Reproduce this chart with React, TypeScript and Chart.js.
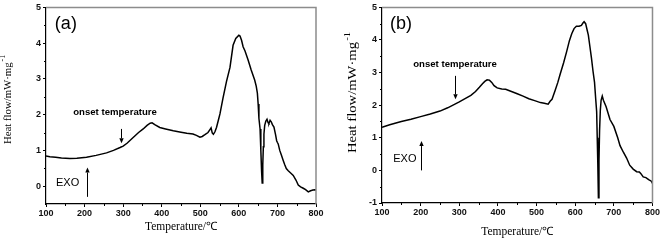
import React, { useEffect, useRef } from "react";
import { Chart, registerables } from "chart.js";

Chart.register(...registerables);

// ---------- data ----------
const tempA = [100, 110, 125, 140, 162, 180, 205, 230, 257, 275, 292, 300, 310, 326, 340, 352, 362, 370, 375, 382, 395, 410, 430, 450, 465, 481, 490, 499, 505, 512, 520, 525, 528, 531, 534, 538, 542, 547, 551, 559, 568, 577, 585, 592, 600, 603, 607, 611, 616, 624, 632, 641, 645, 648, 650, 652, 655, 657, 659, 660.5, 662, 663.5, 665, 667, 670, 673, 676, 678, 681, 684, 687, 691, 695, 698, 700, 702, 706, 710, 715, 719, 723, 728, 735, 741, 748, 754, 760, 767, 773, 780, 786, 792, 797, 800];
const heatA = [0.84, 0.82, 0.81, 0.79, 0.77, 0.78, 0.81, 0.86, 0.93, 1.0, 1.08, 1.12, 1.2, 1.36, 1.5, 1.6, 1.7, 1.76, 1.77, 1.72, 1.64, 1.6, 1.55, 1.51, 1.48, 1.46, 1.42, 1.37, 1.39, 1.44, 1.5, 1.58, 1.63, 1.49, 1.45, 1.52, 1.64, 1.85, 2.02, 2.47, 2.93, 3.32, 3.94, 4.13, 4.22, 4.2, 4.08, 3.9, 3.78, 3.53, 3.25, 2.97, 2.8, 2.6, 2.3, 1.9, 1.6, 1.0, 0.4, 0.09, 0.6, 1.1, 1.45, 1.7, 1.82, 1.87, 1.77, 1.75, 1.84, 1.8, 1.72, 1.65, 1.45, 1.27, 1.22, 1.18, 1.0, 0.88, 0.72, 0.6, 0.49, 0.43, 0.36, 0.3, 0.17, 0.03, -0.02, -0.06, -0.1, -0.16, -0.13, -0.11, -0.1, -0.11];

const tempB = [100, 120, 150, 175, 200, 225, 250, 270, 290, 300, 315, 330, 342, 352, 360, 366, 372, 378, 384, 390, 398, 410, 420, 435, 450, 465, 480, 495, 510, 520, 530, 535, 540, 548, 555, 561, 570, 578, 585, 591, 597, 603, 610, 616, 620, 623, 627, 631, 634, 638, 642, 646, 650, 653, 655.5, 657, 658.5, 660, 661.5, 663, 665, 667, 670, 673, 680, 690, 700, 710, 716, 725, 733, 741, 750, 759, 766, 770, 776, 783, 790, 797, 800];
const heatB = [1.32, 1.4, 1.5, 1.57, 1.65, 1.73, 1.82, 1.92, 2.04, 2.1, 2.2, 2.3, 2.42, 2.55, 2.66, 2.73, 2.78, 2.77, 2.7, 2.6, 2.53, 2.5, 2.49, 2.42, 2.35, 2.28, 2.2, 2.14, 2.08, 2.06, 2.03, 2.12, 2.18, 2.45, 2.7, 2.95, 3.3, 3.65, 3.98, 4.19, 4.35, 4.42, 4.42, 4.45, 4.52, 4.56, 4.5, 4.3, 4.15, 3.8, 3.45, 3.05, 2.7, 2.2, 1.8, 1.0, 0.2, -0.84, 0.3, 1.2, 1.85, 2.15, 2.28, 2.15, 1.95, 1.56, 1.35, 1.0, 0.76, 0.55, 0.38, 0.16, 0.04, -0.04, -0.05, -0.1, -0.2, -0.22, -0.28, -0.33, -0.4];

const xTicks = [100, 200, 300, 400, 500, 600, 700, 800];
const xMinor = [150, 250, 350, 450, 550, 650, 750];
const yTicksA = [0, 1, 2, 3, 4, 5];
const yMinorA = [0.5, 1.5, 2.5, 3.5, 4.5];
const yTicksB = [-1, 0, 1, 2, 3, 4, 5];
const yMinorB = [-0.5, 0.5, 1.5, 2.5, 3.5, 4.5];

const xTitle = "Temperature/\u2103";
const yTitleMain = "Heat flow/mW\u00B7mg";
const yTitleSup = "-1";
const onsetLabel = "onset temperature";
const exoLabel = "EXO";

type Panel = {
  label: string;
  temps: number[];
  heats: number[];
  yMin: number;
  yTicks: number[];
  yMinor: number[];
  canvasLeft: number;
  canvasWidth: number;
  axisWidth: number;
  padTop: number;
  padRight: number;
  xAxisHeight: number;
  xTitlePad: number;
  yTitle: { cx: number; yStart: number; length: number; size: number };
  ann: {
    tag: [number, number];
    onset: [number, number];
    downArrow: [number, number, number];
    exo: [number, number];
    upArrow: [number, number, number];
  };
};

const panels: Panel[] = [
  {
    label: "(a)",
    temps: tempA,
    heats: heatA,
    yMin: -0.5,
    yTicks: yTicksA,
    yMinor: yMinorA,
    canvasLeft: 0,
    canvasWidth: 330,
    axisWidth: 46,
    padTop: 5,
    padRight: 14,
    xAxisHeight: 36,
    xTitlePad: 6.4,
    yTitle: { cx: 8, yStart: 144, length: 89, size: 11 },
    ann: {
      tag: [123, 4.53],
      onset: [279, 2.07],
      downArrow: [294, 1.6, 1.2],
      exo: [126, 0.08],
      upArrow: [205, -0.3, 0.52],
    },
  },
  {
    label: "(b)",
    temps: tempB,
    heats: heatB,
    yMin: -1,
    yTicks: yTicksB,
    yMinor: yMinorB,
    canvasLeft: 330,
    canvasWidth: 331,
    axisWidth: 52,
    padTop: 5,
    padRight: 8,
    xAxisHeight: 37,
    xTitlePad: 1.2,
    yTitle: { cx: 23, yStart: 153, length: 121, size: 12 },
    ann: {
      tag: [121, 4.48],
      onset: [289, 3.25],
      downArrow: [289, 2.9, 2.18],
      exo: [129, 0.36],
      upArrow: [201, 0, 0.9],
    },
  },
];

const SANS = '"Liberation Sans", Arial, sans-serif';
const SERIF = '"Liberation Serif", "Times New Roman", serif';

function drawArrow(ctx: CanvasRenderingContext2D, x: number, y0: number, y1: number) {
  const dir = y1 > y0 ? 1 : -1;
  const head = 5;
  ctx.beginPath();
  ctx.moveTo(x, y0);
  ctx.lineTo(x, y1 - dir * head);
  ctx.lineWidth = 1;
  ctx.strokeStyle = "#000";
  ctx.stroke();
  ctx.beginPath();
  ctx.moveTo(x, y1);
  ctx.lineTo(x - 2.2, y1 - dir * head);
  ctx.lineTo(x + 2.2, y1 - dir * head);
  ctx.closePath();
  ctx.fillStyle = "#000";
  ctx.fill();
}

function makeDecor(p: Panel) {
  return {
    id: "decor",
    afterDraw(chart: any) {
      const { ctx, chartArea: ca } = chart;
      const xs = chart.scales.x;
      const ys = chart.scales.y;
      ctx.save();
      // frame top/right
      ctx.strokeStyle = "#8c8c8c";
      ctx.lineWidth = 1.5;
      ctx.beginPath();
      ctx.moveTo(ca.left, ca.top);
      ctx.lineTo(ca.right, ca.top);
      ctx.lineTo(ca.right, ca.bottom);
      ctx.stroke();
      // minor ticks
      ctx.strokeStyle = "#000";
      ctx.lineWidth = 1;
      ctx.beginPath();
      for (const v of xMinor) {
        const px = Math.round(xs.getPixelForValue(v)) + 0.5;
        ctx.moveTo(px, ca.bottom);
        ctx.lineTo(px, ca.bottom + 2);
      }
      for (const v of p.yMinor) {
        const py = Math.round(ys.getPixelForValue(v)) + 0.5;
        ctx.moveTo(ca.left, py);
        ctx.lineTo(ca.left - 2, py);
      }
      ctx.stroke();

      // y title (rotated)
      const t = p.yTitle;
      ctx.save();
      ctx.translate(t.cx, t.yStart);
      ctx.rotate(-Math.PI / 2);
      ctx.font = `${t.size}px ${SERIF}`;
      const w1 = ctx.measureText(yTitleMain).width;
      const supSize = t.size * 0.72;
      ctx.font = `${supSize}px ${SERIF}`;
      const w2 = ctx.measureText(yTitleSup).width;
      ctx.scale(t.length / (w1 + w2 + 1), 1);
      ctx.fillStyle = "#000";
      ctx.textBaseline = "middle";
      ctx.textAlign = "left";
      ctx.font = `${t.size}px ${SERIF}`;
      ctx.fillText(yTitleMain, 0, 0);
      ctx.font = `${supSize}px ${SERIF}`;
      ctx.fillText(yTitleSup, w1 + 1, -t.size * 0.45);
      ctx.restore();

      // annotations
      const a = p.ann;
      ctx.fillStyle = "#000";
      ctx.textBaseline = "middle";
      ctx.textAlign = "left";
      ctx.font = `18px ${SANS}`;
      ctx.fillText(p.label, xs.getPixelForValue(a.tag[0]), ys.getPixelForValue(a.tag[1]));
      ctx.font = `bold 9.6px ${SANS}`;
      ctx.textAlign = "center";
      ctx.fillText(onsetLabel, xs.getPixelForValue(a.onset[0]), ys.getPixelForValue(a.onset[1]));
      ctx.font = `11px ${SANS}`;
      ctx.textAlign = "left";
      ctx.fillText(exoLabel, xs.getPixelForValue(a.exo[0]), ys.getPixelForValue(a.exo[1]));
      const dx = Math.round(xs.getPixelForValue(a.downArrow[0])) + 0.5;
      drawArrow(ctx, dx, ys.getPixelForValue(a.downArrow[1]), ys.getPixelForValue(a.downArrow[2]));
      const ux = Math.round(xs.getPixelForValue(a.upArrow[0])) + 0.5;
      drawArrow(ctx, ux, ys.getPixelForValue(a.upArrow[1]), ys.getPixelForValue(a.upArrow[2]));
      ctx.restore();
    },
  };
}

function PanelChart({ p }: { p: Panel }) {
  const ref = useRef<HTMLCanvasElement | null>(null);
  useEffect(() => {
    if (!ref.current) return;
    const data = p.temps.map((t, i) => ({ x: t, y: p.heats[i] }));
    const chart = new Chart(ref.current, {
      type: "line",
      data: {
        datasets: [
          {
            data,
            borderColor: "#000",
            borderWidth: 1.5,
            pointRadius: 0,
            tension: 0,
            fill: false,
          },
        ],
      },
      options: {
        responsive: false,
        animation: false,
        events: [],
        layout: { padding: { left: 0, top: p.padTop, right: p.padRight, bottom: 0 } },
        plugins: { legend: { display: false }, tooltip: { enabled: false } },
        scales: {
          x: {
            type: "linear",
            min: 100,
            max: 800,
            afterBuildTicks: (s: any) => {
              s.ticks = xTicks.map((v) => ({ value: v }));
            },
            afterFit: (s: any) => {
              s.height = p.xAxisHeight;
            },
            grid: { display: true, drawOnChartArea: false, drawTicks: true, tickLength: 3, color: "#000" },
            border: { display: true, color: "#000", width: 1.2 },
            ticks: { font: { family: SANS, size: 9, weight: "bold" }, color: "#111", padding: 1, maxRotation: 0 },
            title: {
              display: true,
              text: xTitle,
              font: { family: SERIF, size: 11.5 },
              color: "#000",
              padding: { top: 0, bottom: p.xTitlePad },
            },
          },
          y: {
            type: "linear",
            min: p.yMin,
            max: 5,
            afterBuildTicks: (s: any) => {
              s.ticks = p.yTicks.map((v) => ({ value: v }));
            },
            afterFit: (s: any) => {
              s.width = p.axisWidth;
            },
            grid: { display: true, drawOnChartArea: false, drawTicks: true, tickLength: 3, color: "#000" },
            border: { display: true, color: "#000", width: 1.2 },
            ticks: { font: { family: SANS, size: 9, weight: "bold" }, color: "#111", padding: 2 },
          },
        },
      } as any,
      plugins: [makeDecor(p)],
    });
    return () => chart.destroy();
  }, [p]);
  return (
    <canvas
      ref={ref}
      width={p.canvasWidth}
      height={240}
      style={{ position: "absolute", left: p.canvasLeft, top: 0, width: p.canvasWidth, height: 240 }}
    />
  );
}

export default function App() {
  return (
    <div style={{ position: "fixed", left: 0, top: 0, width: 661, height: 240, background: "#fff", overflow: "hidden" }}>
      {panels.map((p) => (
        <PanelChart key={p.label} p={p} />
      ))}
    </div>
  );
}
